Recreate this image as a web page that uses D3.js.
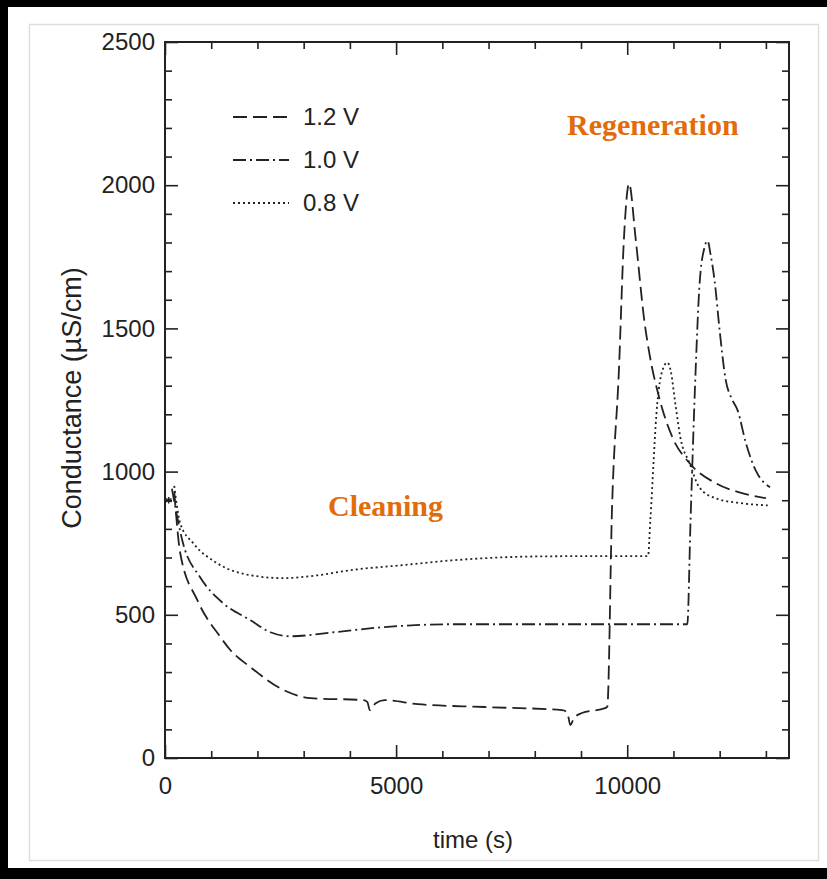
<!DOCTYPE html>
<html>
<head>
<meta charset="utf-8">
<script src="https://cdn.jsdelivr.net/npm/d3@7"></script>
<style>
  body { margin: 0; background: #fff; }
  text { font-family: "Liberation Sans", Arial, sans-serif; fill: #222; }
  .note { font-family: "Liberation Serif", "Times New Roman", serif; font-weight: bold; fill: #e36c0a; }
</style>
</head>
<body>
<svg id="chart" width="827" height="879"></svg>
<script>

// Data
var legendLabels = ['1.2 V', '1.0 V', '0.8 V'];

var time12 = [200, 330, 700, 1200, 1413, 1850, 2570, 3150, 4300, 4380, 4430, 4550, 4750, 5470, 6920, 8590, 8700, 8770, 8850, 9020, 9520, 9570, 9670, 9820, 9930, 10040, 10180, 10370, 10480, 10690, 10980, 11350, 11920, 12500, 13000];
var cond12 = [930, 715, 551, 422, 377, 317, 237, 209, 202, 195, 167, 190, 202, 188, 178, 167, 160, 115, 140, 157, 174, 180, 865, 1353, 1817, 2005, 1817, 1527, 1412, 1259, 1119, 1029, 959, 924, 907];

var time10 = [150, 390, 760, 1260, 1850, 2280, 2720, 3650, 4740, 6200, 7650, 9000, 10500, 11300, 11370, 11480, 11560, 11670, 11740, 11800, 11890, 12000, 12130, 12260, 12390, 12570, 12780, 13090];
var cond10 = [940, 750, 631, 540, 481, 439, 425, 439, 457, 467, 467, 467, 467, 467, 830, 1353, 1642, 1782, 1806, 1761, 1667, 1492, 1320, 1255, 1213, 1098, 1004, 945];

var time08 = [200, 330, 610, 1130, 1850, 2570, 3300, 4020, 5110, 6200, 8150, 9500, 10450, 10500, 10650, 10760, 10870, 10940, 11040, 11150, 11350, 11560, 11910, 12500, 13040];
var cond08 = [950, 819, 750, 680, 638, 628, 638, 656, 673, 690, 704, 705, 705, 830, 1238, 1353, 1381, 1353, 1238, 1119, 1029, 945, 907, 889, 882];

var xTicks = [0, 5000, 10000];
var yTicks = [0, 500, 1000, 1500, 2000, 2500];

var vars = {
  width: 827,
  height: 879,
  plot: {left: 165, right: 789, top: 42, bottom: 758},
  ink: '#222',
  dashes: ['14,6', '13,4,2,4', '2,3']
};

var svg = d3.select('#chart');

// frame
svg.append('rect')
    .attr('x', 0).attr('y', 0)
    .attr('width', vars.width).attr('height', vars.height)
    .attr('fill', '#000');
svg.append('rect')
    .attr('x', 8).attr('y', 7)
    .attr('width', vars.width - 8).attr('height', 861)
    .attr('fill', '#fff');
svg.append('rect')
    .attr('x', 29.5).attr('y', 24.5)
    .attr('width', 789).attr('height', 836)
    .attr('fill', 'none')
    .attr('stroke', '#ddd')
    .attr('stroke-width', 1.5);

var xScale = d3.scaleLinear()
    .domain([0, 13500])
    .range([vars.plot.left, vars.plot.right]);

var yScale = d3.scaleLinear()
    .domain([0, 2500])
    .range([vars.plot.bottom, vars.plot.top]);

function styleAxis(g) {
  g.select('.domain').remove();
  g.selectAll('line').attr('stroke', vars.ink).attr('stroke-width', 1.6);
  g.selectAll('text')
      .style('font-size', '24px')
      .attr('fill', vars.ink);
}

var xMinor = d3.range(1000, 13500, 1000).filter(function(d) { return d % 5000 !== 0; });
var yMinor = d3.range(100, 2500, 100).filter(function(d) { return d % 500 !== 0; });

// bottom axis
svg.append('g')
    .attr('transform', 'translate(0,' + vars.plot.bottom + ')')
    .call(d3.axisBottom(xScale).tickValues(xTicks).tickSize(-13).tickPadding(19).tickFormat(d3.format('d')))
    .call(styleAxis);
svg.append('g')
    .attr('transform', 'translate(0,' + vars.plot.bottom + ')')
    .call(d3.axisBottom(xScale).tickValues(xMinor).tickSize(-7).tickFormat(''))
    .call(styleAxis);

// top axis
svg.append('g')
    .attr('transform', 'translate(0,' + vars.plot.top + ')')
    .call(d3.axisTop(xScale).tickValues(xTicks).tickSize(-13).tickFormat(''))
    .call(styleAxis);
svg.append('g')
    .attr('transform', 'translate(0,' + vars.plot.top + ')')
    .call(d3.axisTop(xScale).tickValues(xMinor).tickSize(-7).tickFormat(''))
    .call(styleAxis);

// left axis
svg.append('g')
    .attr('transform', 'translate(' + vars.plot.left + ',0)')
    .call(d3.axisLeft(yScale).tickValues(yTicks).tickSize(-13).tickPadding(10).tickFormat(d3.format('d')))
    .call(styleAxis);
svg.append('g')
    .attr('transform', 'translate(' + vars.plot.left + ',0)')
    .call(d3.axisLeft(yScale).tickValues(yMinor).tickSize(-7).tickFormat(''))
    .call(styleAxis);

// right axis
svg.append('g')
    .attr('transform', 'translate(' + vars.plot.right + ',0)')
    .call(d3.axisRight(yScale).tickValues(yTicks).tickSize(-13).tickFormat(''))
    .call(styleAxis);
svg.append('g')
    .attr('transform', 'translate(' + vars.plot.right + ',0)')
    .call(d3.axisRight(yScale).tickValues(yMinor).tickSize(-7).tickFormat(''))
    .call(styleAxis);

// plot box
svg.append('rect')
    .attr('x', vars.plot.left).attr('y', vars.plot.top)
    .attr('width', vars.plot.right - vars.plot.left)
    .attr('height', vars.plot.bottom - vars.plot.top)
    .attr('fill', 'none')
    .attr('stroke', vars.ink)
    .attr('stroke-width', 2);

// axis titles
svg.append('text')
    .attr('x', (vars.plot.left + vars.plot.right) / 2 - 4)
    .attr('y', 848)
    .attr('text-anchor', 'middle')
    .style('font-size', '24px')
    .text('time (s)');

svg.append('text')
    .attr('transform', 'translate(81,398) rotate(-90)')
    .attr('text-anchor', 'middle')
    .style('font-size', '27px')
    .text('Conductance (\u00b5S/cm)');

// curves
var series = [
  {label: legendLabels[0], t: time12, v: cond12},
  {label: legendLabels[1], t: time10, v: cond10},
  {label: legendLabels[2], t: time08, v: cond08}
];

var line = d3.line()
    .x(function(d) { return xScale(d[0]); })
    .y(function(d) { return yScale(d[1]); })
    .curve(d3.curveMonotoneX);

svg.selectAll('.curve').data(series)
  .enter()
    .append('path')
    .attr('class', 'curve')
    .attr('d', function(d) { return line(d3.zip(d.t, d.v)); })
    .attr('fill', 'none')
    .attr('stroke', vars.ink)
    .attr('stroke-width', 1.8)
    .attr('stroke-dasharray', function(d, i) { return vars.dashes[i]; });

// start marker
svg.append('path')
    .attr('d', d3.symbol(d3.symbolAsterisk, 30)())
    .attr('transform', 'translate(' + xScale(80) + ',' + yScale(900) + ')')
    .attr('stroke', vars.ink)
    .attr('stroke-width', 1.5);

// legend
var legend = svg.selectAll('.legend').data(series)
  .enter()
    .append('g')
    .attr('class', 'legend')
    .attr('transform', function(d, i) { return 'translate(233,' + (117 + i * 43) + ')'; });

legend.append('line')
    .attr('x1', 0).attr('x2', 56)
    .attr('stroke', vars.ink)
    .attr('stroke-width', 1.8)
    .attr('stroke-dasharray', function(d, i) { return vars.dashes[i]; });

legend.append('text')
    .attr('x', 70)
    .attr('dy', '0.35em')
    .style('font-size', '24px')
    .text(function(d) { return d.label; });

// annotations
svg.append('text')
    .attr('class', 'note')
    .attr('x', 567).attr('y', 135)
    .style('font-size', '30px')
    .text('Regeneration');

svg.append('text')
    .attr('class', 'note')
    .attr('x', 328).attr('y', 516)
    .style('font-size', '30px')
    .text('Cleaning');

</script>
</body>
</html>
